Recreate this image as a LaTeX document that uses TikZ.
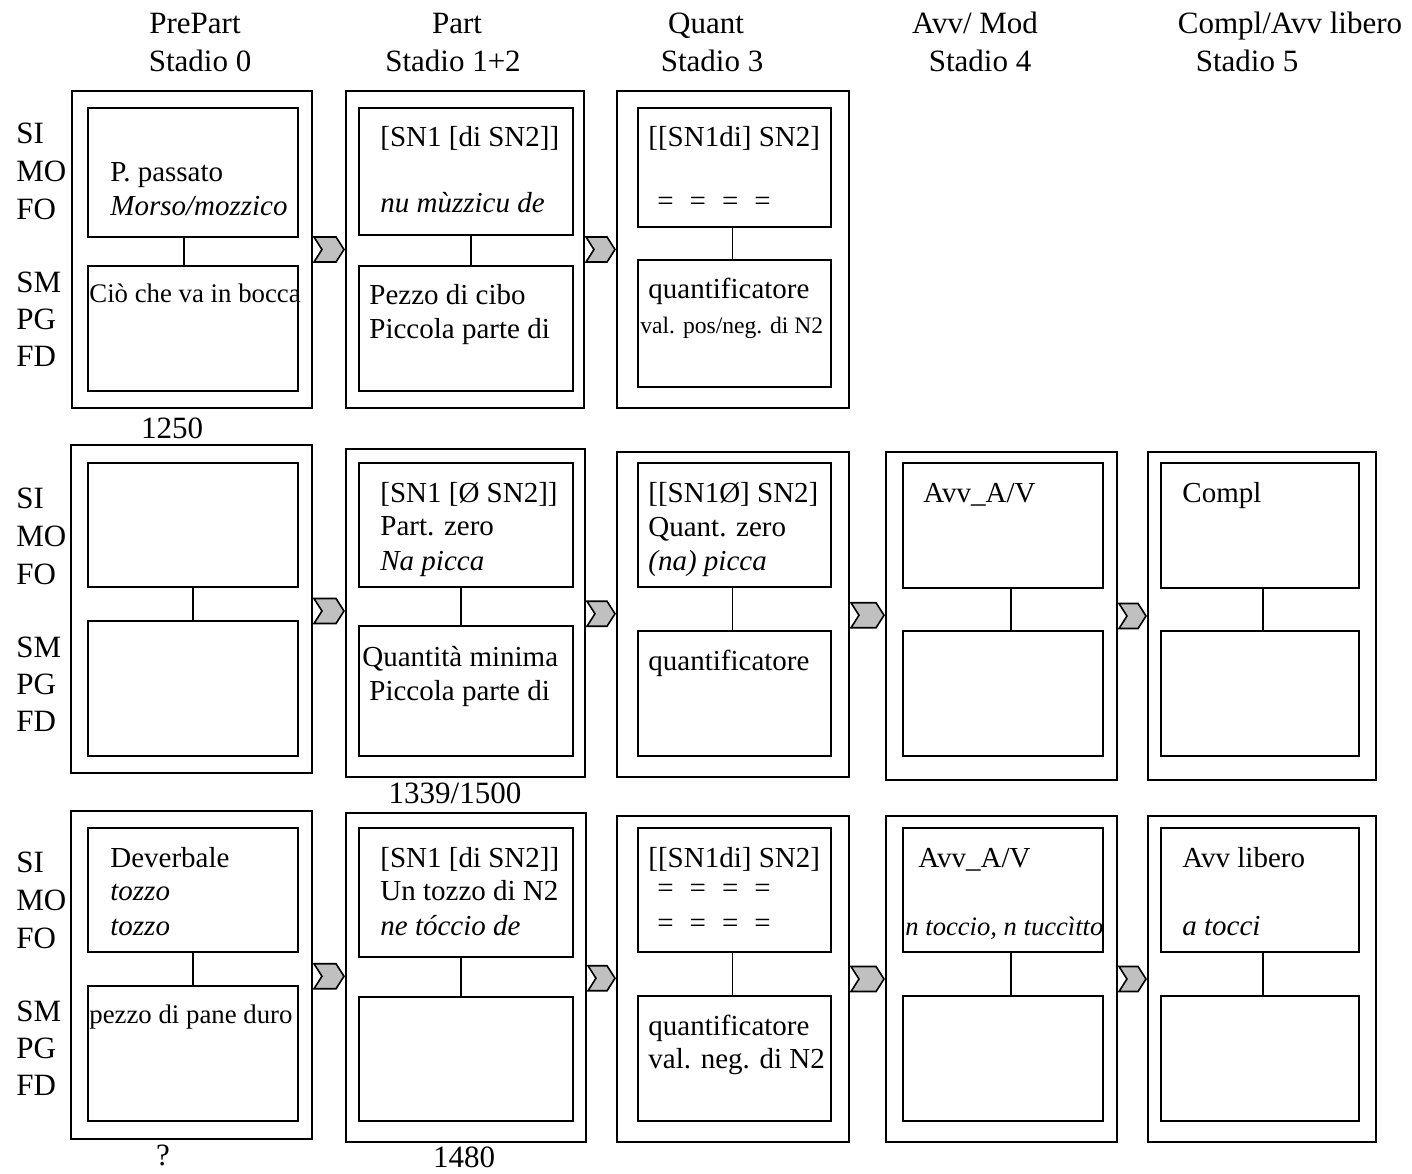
\documentclass[tikz,border=0pt]{standalone}
\usepackage{fontspec}
\setmainfont{Liberation Serif}
\usetikzlibrary{fit,shapes.symbols,calc}
\definecolor{chevgray}{RGB}{192,192,192}

\tikzset{
  stagebox/.style={draw, line width=1pt, inner sep=0pt},
  slotbox/.style={draw, line width=1pt, inner sep=0pt},
  link/.style={line width=0.9pt},
  chevron/.style={signal, signal from=west, signal to=east, draw, fill=chevgray,
    line width=0.8pt, inner sep=0pt, minimum height=12.5pt,
    signal pointer angle=115},
  head/.style={anchor=base, inner sep=0pt, font=\fontsize{15.5}{18.5}\selectfont},
  side/.style={anchor=base west, inner sep=0pt, font=\fontsize{15.5}{18.5}\selectfont},
  txt/.style={anchor=base west, inner sep=0pt, font=\fontsize{14.5}{17}\selectfont},
  itxt/.style={txt, font=\fontsize{14.5}{17}\selectfont\itshape},
  smalltxt/.style={txt, font=\fontsize{13.4}{16}\selectfont},
  tinytxt/.style={txt, font=\fontsize{11.8}{14}\selectfont},
  ismalltxt/.style={txt, font=\fontsize{13.3}{16}\selectfont\itshape},
}

% one stage: outer frame, upper (form) slot, lower (meaning) slot and the link between them
\newcommand\stagecell[5]{%
  \node[stagebox, fit={#2}] (#1) {};
  \node[slotbox, fit={#3}] (#1-up) {};
  \node[slotbox, fit={#4}] (#1-lo) {};
  \draw[link] ([xshift=#5]#1-up.south) -- ([xshift=#5]#1-lo.north);
}
% chevron filling the gap between two neighbouring stages
\newcommand\stagestep[3]{%
  \path let \p1=(#2.east), \p2=(#3.west) in
    node[chevron, minimum width={\x2-\x1-1pt}] (#1) at ($(#2.east)!0.5!(#3.west)$) {};
}
\newcommand\eqrow{=\kern8pt=\kern8pt=\kern8pt=}

\begin{document}
\begin{tikzpicture}[x=0.5pt,y=-0.5pt]
\useasboundingbox (0,0) rectangle (1412,1173);

% column headings
\node[head] (h0a) at (195,33) {PrePart};
\node[head] (h0b) at (200,71) {Stadio 0};
\node[head] (h1a) at (457,33) {Part};
\node[head] (h1b) at (453,71) {Stadio 1+2};
\node[head] (h3a) at (706,33) {Quant};
\node[head] (h3b) at (712,71) {Stadio 3};
\node[head] (h4a) at (975,33) {Avv/ Mod};
\node[head] (h4b) at (980,71) {Stadio 4};
\node[head] (h5a) at (1290,33) {Compl/Avv libero};
\node[head] (h5b) at (1247,71) {Stadio 5};

% row labels
\foreach \r/\dy in {1/0,2/365,3/729}{
  \node[side] (si\r) at (16,143+\dy) {SI};
  \node[side] (mo\r) at (16,181+\dy) {MO};
  \node[side] (fo\r) at (16,219+\dy) {FO};
  \node[side] (sm\r) at (16,292+\dy) {SM};
  \node[side] (pg\r) at (16,329+\dy) {PG};
  \node[side] (fd\r) at (16,366+\dy) {FD};
}

% ---- row 1 : morso / mozzico
\stagecell{r1c1}{(72,91) (312,408)}{(88,108) (298,237)}{(88,266) (298,391)}{-4.5pt}
\stagecell{r1c2}{(346,91) (584,408)}{(359,108) (573,235)}{(359,266) (573,391)}{2.5pt}
\stagecell{r1c3}{(617,91) (849,408)}{(638,108) (831,227)}{(638,260) (831,387)}{-1pt}
\stagestep{r1s1}{r1c1}{r1c2}
\stagestep{r1s2}{r1c2}{r1c3}

\node[txt]  (r1c1-t1) at (110,181) {P. passato};
\node[itxt] (r1c1-t2) at (110,215) {Morso/mozzico};
\node[smalltxt] (r1c1-m1) at (89,302) {Ciò che va in bocca};
\node[txt]  (r1c2-t1) at (380,146) {[SN1 [di SN2]]};
\node[itxt] (r1c2-t2) at (380,212) {nu mùzzicu de};
\node[txt]  (r1c2-m1) at (369,304) {Pezzo di cibo};
\node[txt]  (r1c2-m2) at (369,338) {Piccola parte di};
\node[txt]  (r1c3-t1) at (648,146) {[[SN1di] SN2]};
\node[txt]  (r1c3-t2) at (657,210) {\eqrow};
\node[txt]  (r1c3-m1) at (648,298) {quantificatore};
\node[tinytxt] (r1c3-m2) at (640,333) {val. pos/neg. di N2};
\node[head] (r1n) at (172,438) {1250};

% ---- row 2 : picca
\stagecell{r2c1}{(71,445) (312,773)}{(88,463) (298,587)}{(88,621) (298,756)}{0pt}
\stagecell{r2c2}{(346,449) (585,777)}{(359,463) (573,587)}{(359,626) (573,756)}{-2.5pt}
\stagecell{r2c3}{(617,452) (849,777)}{(638,463) (831,587)}{(638,631) (831,756)}{-1pt}
\stagecell{r2c4}{(886,452) (1117,780)}{(903,463) (1103,588)}{(903,631) (1103,756)}{4pt}
\stagecell{r2c5}{(1148,452) (1376,780)}{(1161,463) (1359,588)}{(1161,631) (1359,756)}{1.5pt}
\stagestep{r2s1}{r2c1}{r2c2}
\stagestep{r2s2}{r2c2}{r2c3}
\stagestep{r2s3}{r2c3}{r2c4}
\stagestep{r2s4}{r2c4}{r2c5}

\node[txt]  (r2c2-t1) at (380,502) {[SN1 [Ø SN2]]};
\node[txt]  (r2c2-t2) at (380,535) {Part. zero};
\node[itxt] (r2c2-t3) at (380,570) {Na picca};
\node[txt]  (r2c2-m1) at (362,666) {Quantità minima};
\node[txt]  (r2c2-m2) at (369,700) {Piccola parte di};
\node[txt]  (r2c3-t1) at (648,502) {[[SN1Ø] SN2]};
\node[txt]  (r2c3-t2) at (648,536) {Quant. zero};
\node[itxt] (r2c3-t3) at (648,570) {(na) picca};
\node[txt]  (r2c3-m1) at (648,670) {quantificatore};
\node[txt]  (r2c4-t1) at (923,502) {Avv\_A/V};
\node[txt]  (r2c5-t1) at (1182,502) {Compl};
\node[head] (r2n) at (455,803) {1339/1500};

% ---- row 3 : tozzo
\stagecell{r3c1}{(71,811) (312,1139)}{(88,828) (298,952)}{(88,986) (298,1121)}{0pt}
\stagecell{r3c2}{(346,813) (586,1142)}{(359,828) (573,957)}{(359,997) (573,1121)}{-2.5pt}
\stagecell{r3c3}{(617,816) (849,1142)}{(638,828) (831,952)}{(638,996) (831,1121)}{-1pt}
\stagecell{r3c4}{(886,816) (1117,1142)}{(903,828) (1103,952)}{(903,996) (1103,1121)}{4pt}
\stagecell{r3c5}{(1148,816) (1376,1142)}{(1161,828) (1359,952)}{(1161,996) (1359,1121)}{1.5pt}
\stagestep{r3s1}{r3c1}{r3c2}
\stagestep{r3s2}{r3c2}{r3c3}
\stagestep{r3s3}{r3c3}{r3c4}
\stagestep{r3s4}{r3c4}{r3c5}

\node[txt]  (r3c1-t1) at (110,867) {Deverbale};
\node[itxt] (r3c1-t2) at (110,900) {tozzo};
\node[itxt] (r3c1-t3) at (110,935) {tozzo};
\node[smalltxt] (r3c1-m1) at (89,1023) {pezzo di pane duro};
\node[txt]  (r3c2-t1) at (380,867) {[SN1 [di SN2]]};
\node[txt]  (r3c2-t2) at (380,900) {Un tozzo di N2};
\node[itxt] (r3c2-t3) at (380,935) {ne tóccio de};
\node[txt]  (r3c3-t1) at (648,867) {[[SN1di] SN2]};
\node[txt]  (r3c3-t2) at (657,897) {\eqrow};
\node[txt]  (r3c3-t3) at (657,932) {\eqrow};
\node[txt]  (r3c3-m1) at (648,1035) {quantificatore};
\node[txt]  (r3c3-m2) at (648,1068) {val. neg. di N2};
\node[txt]  (r3c4-t1) at (918,867) {Avv\_A/V};
\node[ismalltxt] (r3c4-t2) at (905,935) {n toccio, n tuccìtto};
\node[txt]  (r3c5-t1) at (1182,867) {Avv libero};
\node[itxt] (r3c5-t2) at (1182,935) {a tocci};
\node[head] (r3n0) at (163,1165) {?};
\node[head] (r3n1) at (464,1167) {1480};

\end{tikzpicture}
\end{document}
